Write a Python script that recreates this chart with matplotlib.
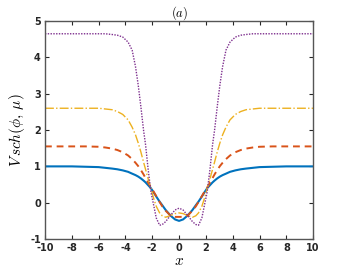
import numpy as np
import matplotlib
matplotlib.use("Agg")
import matplotlib.pyplot as plt

plt.rcParams["mathtext.fontset"] = "cm"

# half profiles (x >= 0), mirrored for x < 0
x_half = [0, 0.3, 0.62, 1.0, 1.25, 1.45, 1.7, 1.92, 2.1, 2.3, 2.5, 2.65, 2.85,
          3.05, 3.25, 3.5, 3.8, 4.2, 4.6, 5.0, 5.5, 6.0, 7.0, 8.0, 10.0]

blue_half = [-0.5, -0.46, -0.36, -0.2, -0.07, 0.03, 0.17, 0.3, 0.4, 0.48, 0.56,
             0.61, 0.67, 0.72, 0.76, 0.8, 0.85, 0.89, 0.92, 0.94, 0.96, 0.98,
             0.99, 1.0, 1.0]

red_half = [-0.39, -0.39, -0.36, -0.22, -0.1, 0.02, 0.18, 0.32, 0.42, 0.55,
            0.68, 0.78, 0.9, 1.01, 1.1, 1.2, 1.3, 1.39, 1.45, 1.49, 1.52,
            1.54, 1.55, 1.55, 1.55]

orange_half = [-0.28, -0.3, -0.35, -0.4, -0.36, -0.28, -0.1, 0.15, 0.4, 0.65,
               0.92, 1.12, 1.4, 1.65, 1.87, 2.08, 2.28, 2.43, 2.51, 2.56,
               2.58, 2.6, 2.6, 2.6, 2.6]

purple_half = [-0.15, -0.2, -0.34, -0.52, -0.6, -0.62, -0.42, -0.02, 0.3, 0.9,
               1.6, 2.0, 2.65, 3.25, 3.75, 4.2, 4.42, 4.56, 4.61, 4.63, 4.65,
               4.65, 4.65, 4.65, 4.65]

x_ticks = [-10, -8, -6, -4, -2, 0, 2, 4, 6, 8, 10]
y_ticks = [-1, 0, 1, 2, 3, 4, 5]


def mirror(xs, ys):
    xs = np.asarray(xs)
    ys = np.asarray(ys)
    return (np.concatenate([-xs[:0:-1], xs]),
            np.concatenate([ys[:0:-1], ys]))


fig = plt.figure(figsize=(3.46, 2.77), dpi=100)
ax = fig.add_axes([0.130, 0.137, 0.775, 0.787])

x, y = mirror(x_half, blue_half)
ax.plot(x, y, color="#0072BD", lw=1.5, ls="-")
x, y = mirror(x_half, red_half)
ax.plot(x, y, color="#D95319", lw=1.4, ls=(0, (3.5, 2.5)))
x, y = mirror(x_half, orange_half)
ax.plot(x, y, color="#EDB120", lw=1.0, ls="-.")
x, y = mirror(x_half, purple_half)
ax.plot(x, y, color="#7E2F8E", lw=1.0, ls=(0, (1, 1)))

ax.set_xlim(-10, 10)
ax.set_ylim(-1, 5)
ax.set_xticks(x_ticks)
ax.set_yticks(y_ticks)
ax.set_xticklabels([str(t) for t in x_ticks])
ax.set_yticklabels([str(t) for t in y_ticks])
ax.tick_params(direction="in", length=3, width=0.8, top=True, right=True,
               labelsize=7, colors="#262626", pad=3)
for lab in ax.get_xticklabels() + ax.get_yticklabels():
    lab.set_fontweight("bold")
for s in ax.spines.values():
    s.set_color("#555555")
    s.set_linewidth(1.0)

ax.set_xlabel(r"$x$", fontsize=11, labelpad=0)
ax.set_ylabel(r"$V\,sch(\phi,\,\mu)$", fontsize=11, labelpad=2)
ax.set_title(r"$(a)$", fontsize=9, pad=3)

fig.savefig("out.png", dpi=100)
